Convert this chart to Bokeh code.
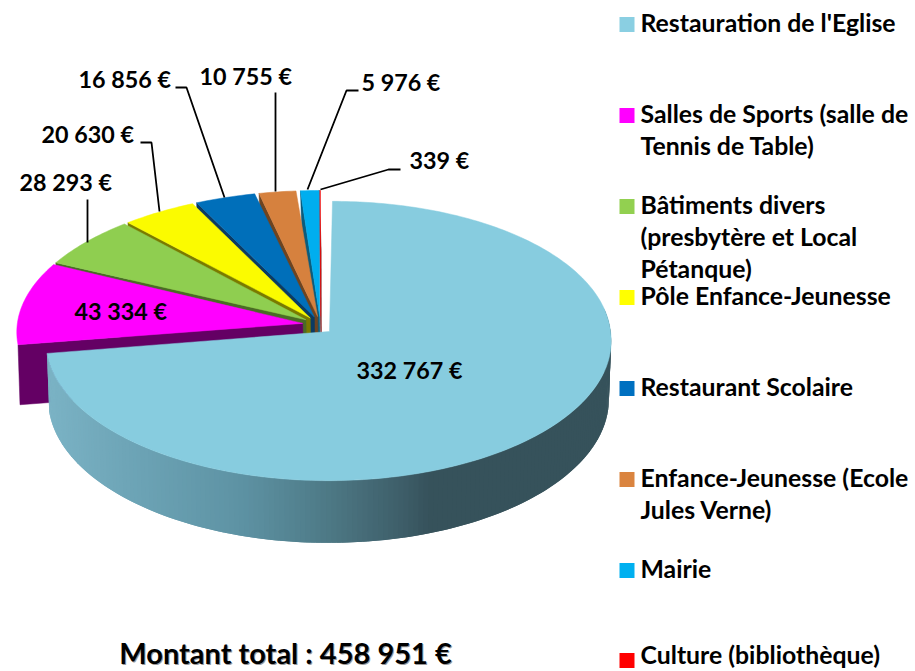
import math
from bokeh.plotting import figure
from bokeh.embed import file_html
from bokeh.resources import INLINE
from bokeh.core.properties import value

categories = ["Restauration de l'Eglise", "Salles de Sports (salle de\nTennis de Table)",
              "Bâtiments divers\n(presbytère et Local\nPétanque)", "Pôle Enfance-Jeunesse",
              "Restaurant Scolaire", "Enfance-Jeunesse (Ecole\nJules Verne)", "Mairie",
              "Culture (bibliothèque)"]
amounts = [332767, 43334, 28293, 20630, 16856, 10755, 5976, 339]
total_label = "Montant total : 458 951 €"

top_colors = ["#87CCDF", "#FF00FF", "#8FCE50", "#FBFB00", "#006FBA", "#D6813E", "#00AEEF", "#F01010"]
legend_colors = ["#8ACFE2", "#FF00FF", "#92D050", "#FFFF00", "#0070C0", "#DA843F", "#00B0F0", "#FF0000"]
side_colors = ["#36525B", "#640064", "#4A6B26", "#7A7A00", "#0B3B63", "#6E4420", "#0B5C7C", "#801010"]

FONT = value("Lato")
W, H = 915, 671
p = figure(width=W, height=H, x_range=(0, W), y_range=(H, 0), toolbar_location=None,
           output_backend="svg", min_border=0, outline_line_color=None)
p.axis.visible = False
p.grid.visible = False

K = 0.068
def project(theta, cx, cy, rx, ry, skew=0.0):
    u, v = math.sin(theta), math.cos(theta)
    s = 1.0 / (1.0 + K * v)
    return cx + rx * u * s + skew * max(v, 0), cy - ry * v * s, s

def arc(a0, a1, *geo, **kw):
    n = max(2, int(abs(a1 - a0) / math.radians(1)) + 2)
    return [project(a0 + (a1 - a0) * i / (n - 1), *geo, **kw) for i in range(n)]

tot = sum(amounts)
angles = [0.0]
for a in amounts:
    angles.append(angles[-1] + a / tot * 2 * math.pi)

# small slices, drawn from the back to the front
GEO = (320, 322, 303, 141)
for i in range(len(amounts) - 1, 0, -1):
    a0, a1 = angles[i], angles[i + 1]
    mid = (a0 + a1) / 2
    inset = math.radians(0.9) if 1 < i < len(amounts) - 1 else 0
    ax = 320 + 18 * math.sin(mid)
    ay = 324 - 8 * math.cos(mid)
    px, py, _ = project(a0 + inset, *GEO)
    p.patch([px, ax, ax + 1, px + 2], [py, ay, ay + 60, py + 60],
            fill_color=side_colors[i], line_color=side_colors[i], line_width=0.5)
    pts = arc(a0 + inset, a1, *GEO)
    xs = [q[0] for q in pts] + [ax]
    ys = [q[1] for q in pts] + [ay]
    p.patch(xs, ys, fill_color=top_colors[i], line_color=top_colors[i], line_width=0.5)

# main slice: wall with a horizontal shading, then top
MAIN = (328, 331, 282, 139)
stops = [(48, (0x7B, 0xB3, 0xC5)), (140, (0x6C, 0xA3, 0xB5)), (240, (0x5E, 0x93, 0xA4)),
         (320, (0x4F, 0x7C, 0x89)), (400, (0x3F, 0x5F, 0x6A)), (430, (0x36, 0x52, 0x5B)),
         (620, (0x36, 0x52, 0x5B))]
def shade(x):
    for (x0, c0), (x1, c1) in zip(stops, stops[1:]):
        if x <= x1:
            t = max(0.0, (x - x0) / (x1 - x0))
            return "#%02x%02x%02x" % tuple(int(c0[j] + (c1[j] - c0[j]) * t) for j in range(3))
    return "#36525b"

wall = arc(math.radians(80), angles[1], *MAIN, skew=3)
for j in range(len(wall) - 1):
    q0, q1 = wall[j], wall[min(j + 2, len(wall) - 1)]
    b0x = q0[0] + (329 - q0[0]) * 0.008
    b1x = q1[0] + (329 - q1[0]) * 0.008
    c = shade((wall[j][0] + wall[j + 1][0]) / 2)
    p.patch([q0[0], q1[0], b1x, b0x], [q0[1], q1[1], q1[1] + 58 * q1[2], q0[1] + 58 * q0[2]],
            fill_color=c, line_color=None)
pts = arc(0, angles[1], *MAIN, skew=4)
p.patch([q[0] for q in pts] + [329], [q[1] for q in pts] + [331],
        fill_color=top_colors[0], line_color=top_colors[0], line_width=0.5)

# leader lines
leaders = [([87, 87], [199, 242]),
           ([140, 151, 159], [142, 142, 211]),
           ([175, 186, 224], [87, 87, 197]),
           ([275, 275], [92, 191]),
           ([358, 346, 307], [90, 90, 189]),
           ([400, 388, 320], [169, 169, 189])]
for xs, ys in leaders:
    p.line(xs, ys, line_color="#000000", line_width=1.8)

def label(x, y, t, size="23.3px", align="left", color="#000000"):
    p.text([x - 1], [y - 2], text=[t], text_font=FONT, text_font_style="bold", text_font_size=size,
           text_align=align, text_baseline="middle", text_color=color)

def money(v):
    return f"{v:,}".replace(",", " ") + " €"

label_pos = [(357, 371), (75, 312), (20, 183), (42, 135), (79, 80), (200, 77), (362, 83), (410, 161)]
for v, (x, y) in zip(amounts, label_pos):
    label(x, y, money(v))

# legend
marker_rows = [24, 115, 206, 297, 388, 479, 570, 660]
text_rows = [24, 115, 206, 297, 388, 479, 570, 656]
for name, c, my, ty in zip(categories, legend_colors, marker_rows, text_rows):
    p.quad(left=[619], right=[634], top=[my - 7.5], bottom=[my + 7.5], fill_color=c, line_color=None)
    for j, line in enumerate(name.split("\n")):
        label(641, ty + j * 32, line, size="24.8px")

# total
label(287, 654.5, total_label, size="29px", align="center", color="#9a9a9a")
label(286, 653.5, total_label, size="29px", align="center")

open("out.html", "w").write(file_html(p, INLINE))
